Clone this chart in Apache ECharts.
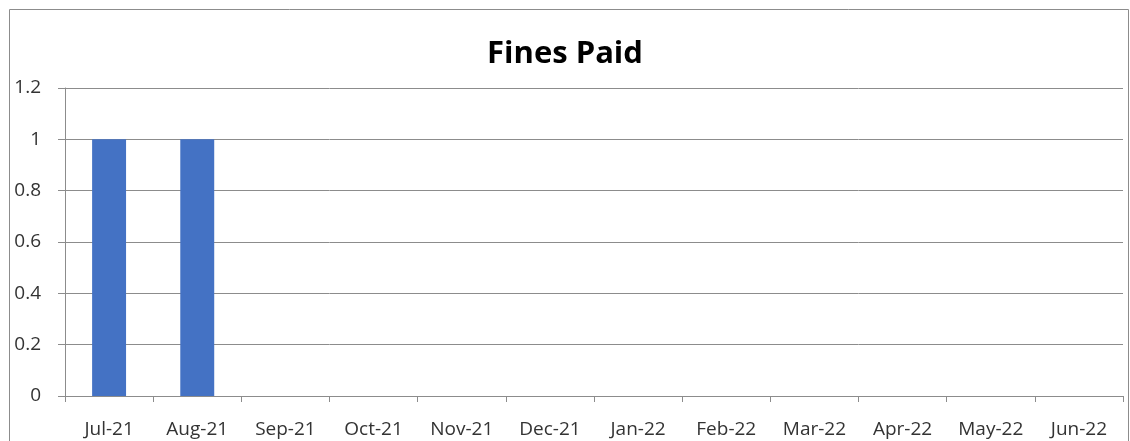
<!DOCTYPE html>
<html>
<head>
<meta charset="utf-8">
<script src="https://cdn.jsdelivr.net/npm/echarts@6/dist/echarts.min.js"></script>
<style>
  html, body { margin: 0; padding: 0; background: #fff; }
  #chart { width: 1130px; height: 441px; }
</style>
</head>
<body>
<div id="chart"></div>
<script>
// data
const months = ['Jul-21', 'Aug-21', 'Sep-21', 'Oct-21', 'Nov-21', 'Dec-21',
  'Jan-22', 'Feb-22', 'Mar-22', 'Apr-22', 'May-22', 'Jun-22'];
const finesPaid = [1, 1, 0, 0, 0, 0, 0, 0, 0, 0, 0, 0];

const chart = echarts.init(document.getElementById('chart'));
const font = '"Open Sans", "Noto Sans", sans-serif';

chart.setOption({
  animation: false,
  textStyle: { fontFamily: font },
  title: {
    text: 'Fines Paid',
    left: 'center',
    top: 34,
    textStyle: { fontSize: 31, fontWeight: 'bold', color: '#000', fontFamily: font },
  },
  // outer chart frame
  graphic: [{
    type: 'rect',
    shape: { x: 9.5, y: 9.5, width: 1119, height: 445 },
    style: { fill: 'none', stroke: '#8c8c8c', lineWidth: 1 },
    silent: true,
  }],
  grid: { left: 65, right: 7, top: 88, bottom: 45 },
  xAxis: {
    type: 'category',
    data: months,
    axisLine: { lineStyle: { color: '#8c8c8c' } },
    axisTick: { show: true, length: 6, lineStyle: { color: '#8c8c8c' } },
    axisLabel: { color: '#333', fontSize: 19, margin: 24 },
  },
  yAxis: {
    type: 'value',
    min: 0,
    max: 1.2,
    interval: 0.2,
    axisLine: { show: true, lineStyle: { color: '#8c8c8c' } },
    axisTick: { show: true, length: 7, lineStyle: { color: '#8c8c8c' } },
    axisLabel: { color: '#333', fontSize: 19, margin: 24 },
    splitLine: { lineStyle: { color: '#8c8c8c' } },
  },
  series: [{
    type: 'bar',
    data: finesPaid,
    barWidth: '38.5%',
    itemStyle: { color: '#4472c4' },
  }],
});
</script>
</body>
</html>
